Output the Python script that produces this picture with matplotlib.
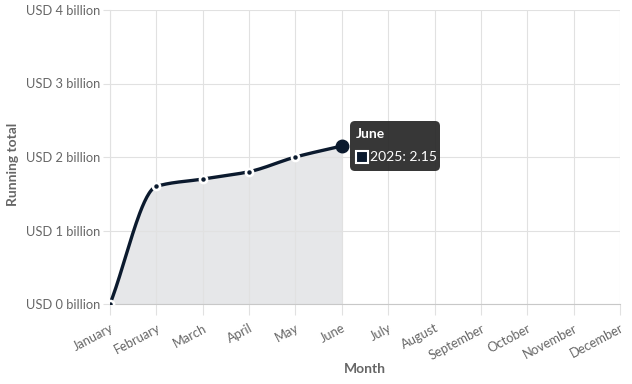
import matplotlib.pyplot as plt
import numpy as np
from matplotlib.patches import FancyBboxPatch, Rectangle
from matplotlib.transforms import IdentityTransform

months = ["January", "February", "March", "April", "May", "June", "July",
          "August", "September", "October", "November", "December"]
running_total = [0.0, 1.6, 1.7, 1.8, 2.0, 2.15]
y_ticks = [0, 1, 2, 3, 4]
y_tick_labels = ["USD %d billion" % v for v in y_ticks]
series_name = "2025"

line_color = "#0b1a2e"
grid_color = "#e1e1e1"
text_color = "#666666"

plt.rcParams['font.family'] = ['Lato', 'DejaVu Sans']


# monotone cubic (Fritsch-Carlson) used only to draw the smooth line
def monotone_curve(x, y, n=40):
    x = np.asarray(x, float)
    y = np.asarray(y, float)
    h = np.diff(x)
    d = np.diff(y) / h
    m = np.zeros_like(y)
    m[0], m[-1] = d[0], d[-1]
    for i in range(1, len(y) - 1):
        if d[i-1] * d[i] <= 0:
            m[i] = 0
        else:
            m[i] = 2 / (1/d[i-1] + 1/d[i])
    xs, ys = [], []
    for i in range(len(x) - 1):
        t = np.linspace(0, 1, n)
        h00 = 2*t**3 - 3*t**2 + 1
        h10 = t**3 - 2*t**2 + t
        h01 = -2*t**3 + 3*t**2
        h11 = t**3 - t**2
        xs.append(x[i] + t*h[i])
        ys.append(h00*y[i] + h10*h[i]*m[i] + h01*y[i+1] + h11*h[i]*m[i+1])
    return np.concatenate(xs), np.concatenate(ys)


fig = plt.figure(figsize=(6.32, 3.84), dpi=100)
ax = fig.add_axes([110/632, 80/384, 510/632, 294/384])

idx = np.arange(len(running_total))
cx, cy = monotone_curve(idx, running_total)

ax.fill_between(cx, 0, cy, color="#e6e7e9", zorder=1)
ax.plot(cx, cy, color=line_color, lw=2.4, zorder=3, solid_capstyle='round')
ax.plot(idx[:-1], running_total[:-1], 'o', ms=6, mfc='white', mec='white', zorder=4)
ax.plot(idx[:-1], running_total[:-1], 'o', ms=2.2, mfc=line_color, mec=line_color, zorder=5)
ax.plot(idx[-1:], running_total[-1:], 'o', ms=9, mfc=line_color, mec=line_color, zorder=5)

ax.set_xlim(0, len(months) - 1)
ax.set_ylim(0, 4)
ax.set_xticks(range(len(months)))
ax.set_xticklabels(months, rotation=28, ha='right', rotation_mode='anchor')
ax.set_yticks(y_ticks)
ax.set_yticklabels(y_tick_labels)
ax.grid(True, color=grid_color, lw=0.8, zorder=0)
ax.tick_params(colors=grid_color, labelcolor=text_color, labelsize=9.3, width=0.8)
ax.tick_params(axis='y', pad=2, length=5)
ax.tick_params(axis='x', pad=5, length=8)
for s in ax.spines.values():
    s.set_visible(False)
ax.spines['bottom'].set_visible(True)
ax.spines['bottom'].set_color("#c8c8c8")
ax.spines['left'].set_visible(True)
ax.spines['left'].set_color(grid_color)

fig.text(365 / 632, 1 - 369 / 384, "Month", color=text_color, fontsize=10,
         fontweight='bold', ha='center', va='center')
fig.text(13 / 632, 1 - 164 / 384, "Running total", color=text_color, fontsize=10,
         fontweight='bold', ha='center', va='center', rotation=90)

# tooltip (pixel coordinates)
tr = IdentityTransform()
box = FancyBboxPatch((350, 213), 90, 50, boxstyle="round,pad=0,rounding_size=5",
                     transform=tr, fc="#262626", ec="none", alpha=0.92, zorder=10)
fig.patches.append(box)
fig.text(356 / 632, 250 / 384, months[len(running_total) - 1], color='white',
         fontsize=10, fontweight='bold', va='center', ha='left', zorder=11)
fig.patches.append(Rectangle((356, 221), 12, 12, transform=tr, fc=line_color,
                             ec='white', lw=1.5, zorder=11))
fig.text(370 / 632, 227 / 384, "%s: %.2f" % (series_name, running_total[-1]),
         color='white', fontsize=10, va='center', ha='left', zorder=11)

fig.savefig("out.png", dpi=100)
